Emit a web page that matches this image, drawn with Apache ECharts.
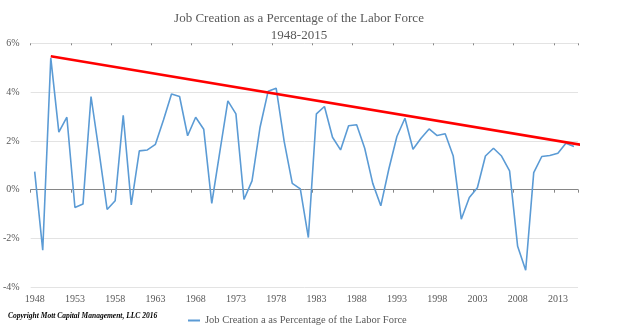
<!DOCTYPE html>
<html>
<head>
<meta charset="utf-8">
<script src="https://cdn.jsdelivr.net/npm/echarts@6/dist/echarts.min.js"></script>
<style>html,body{margin:0;padding:0;background:#fff}#c{width:640px;height:329px}</style>
</head>
<body>
<div id="c"></div>
<script>
var years = [];
for (var y = 1948; y <= 2015; y++) years.push(String(y));

var jobCreation = [
  0.74, -2.48, 5.40, 2.36, 2.97, -0.73, -0.59, 3.82, 1.55, -0.81,
  -0.45, 3.05, -0.62, 1.59, 1.63, 1.86, 2.86, 3.92, 3.82, 2.21,
  2.97, 2.48, -0.56, 1.55, 3.64, 3.11, -0.40, 0.36, 2.56, 4.03,
  4.16, 1.97, 0.26, 0.03, -1.96, 3.11, 3.41, 2.15, 1.63, 2.62,
  2.66, 1.70, 0.26, -0.66, 0.85, 2.18, 2.93, 1.66, 2.11, 2.49,
  2.22, 2.29, 1.38, -1.21, -0.32, 0.08, 1.38, 1.70, 1.38, 0.77,
  -2.32, -3.30, 0.70, 1.36, 1.40, 1.49, 1.90, 1.77
];

var trendYears = [1950, 2016.2];
var trendValues = [5.47, 1.82];

var yTicks = { min: -4, max: 6, interval: 2 };

var serif = 'Liberation Serif';
var grey = '#595959';

var chart = echarts.init(document.getElementById('c'), null, { renderer: 'canvas' });
chart.setOption({
  animation: false,
  backgroundColor: '#ffffff',
  title: {
    text: 'Job Creation as a Percentage of the Labor Force\n1948-2015',
    left: 294,
    top: 5,
    textAlign: 'center',
    textStyle: { fontFamily: serif, fontSize: 13, fontWeight: 'normal', color: grey, lineHeight: 17 }
  },
  legend: {
    data: ['Job Creation a as Percentage of the Labor Force'],
    left: 183,
    top: 310,
    icon: 'rect',
    itemWidth: 12,
    itemHeight: 2,
    textStyle: { fontFamily: serif, fontSize: 10.5, color: grey }
  },
  graphic: [{
    type: 'text',
    left: 8,
    top: 312,
    style: { text: 'Copyright Mott Capital Management, LLC 2016', font: 'italic bold 7.5px "Liberation Serif"', fill: '#000' }
  }],
  grid: { left: 30, right: 62, top: 43.3, bottom: 41.7 },
  xAxis: [
    {
      type: 'category', data: years, boundaryGap: true,
      axisLine: { onZero: true, lineStyle: { color: '#868686', width: 1 } },
      axisTick: { show: true, interval: 4, length: 3, lineStyle: { color: '#868686' } },
      axisLabel: { show: false },
      splitLine: { show: false }
    },
    {
      type: 'category', data: years, boundaryGap: true, position: 'bottom',
      axisLine: { show: false, onZero: false },
      axisTick: { show: false },
      axisLabel: { show: true, interval: 4, margin: 7, fontFamily: serif, fontSize: 10, color: grey },
      splitLine: { show: false }
    },
    {
      type: 'value', min: 1947.5, max: 2015.5, show: false, position: 'top',
      splitLine: { show: false }
    },
    {
      type: 'category', data: years, boundaryGap: true,
      axisLine: { show: false, onZero: true },
      axisTick: { show: true, inside: true, interval: 4, length: 2, lineStyle: { color: '#868686' } },
      axisLabel: { show: false },
      splitLine: { show: false }
    }
  ],
  yAxis: {
    type: 'value', min: yTicks.min, max: yTicks.max, interval: yTicks.interval,
    axisLine: { show: false }, axisTick: { show: false },
    axisLabel: { margin: 11, fontFamily: serif, fontSize: 10, color: grey, formatter: function (v) { return v + '%'; } },
    splitLine: { lineStyle: { color: '#e3e3e3', width: 1 } }
  },
  series: [
    {
      name: 'Job Creation a as Percentage of the Labor Force',
      type: 'line', xAxisIndex: 0, yAxisIndex: 0,
      data: jobCreation, symbol: 'none', showSymbol: false,
      lineStyle: { color: '#5B9BD5', width: 1.6 },
      itemStyle: { color: '#5B9BD5' },
      z: 3
    },
    {
      name: 'Trend',
      type: 'line', xAxisIndex: 2, yAxisIndex: 0,
      data: trendYears.map(function (t, i) { return [t, trendValues[i]]; }),
      symbol: 'none', clip: false,
      lineStyle: { color: '#FF0000', width: 2.6 },
      z: 4
    }
  ]
});
</script>
</body>
</html>
